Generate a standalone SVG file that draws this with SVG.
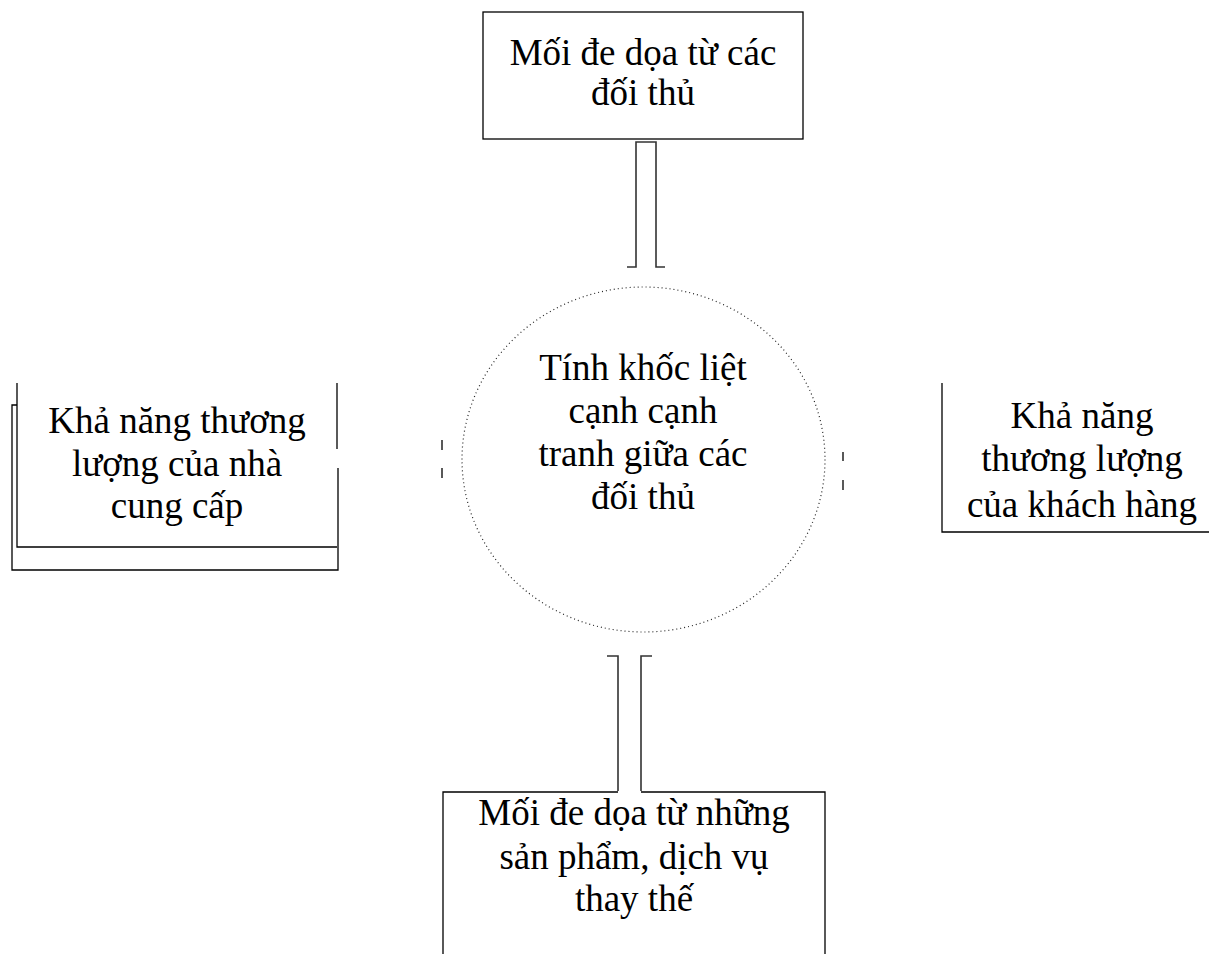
<svg xmlns="http://www.w3.org/2000/svg" width="1209" height="954" viewBox="0 0 1209 954">
  <style>
    .frame { fill: none; stroke: #000; stroke-width: 1.3; }
    .stem { fill: none; stroke: #333; stroke-width: 1.6; }
    .ring { fill: none; stroke: #222; stroke-width: 1.2; stroke-dasharray: 1 3; }
    .tick { stroke: #222; stroke-width: 1.5; }
    .label { font-family: "Liberation Serif", "Times New Roman", serif; font-size: 37px; fill: #000; text-anchor: middle; }
  </style>
  <rect width="1209" height="954" fill="#fff"/>

  <!-- Top: threat of rivals -->
  <g id="node-top">
    <rect class="frame" x="483" y="12" width="320" height="127"/>
    <text class="label" x="643" y="65">Mối đe dọa từ các</text>
    <text class="label" x="643" y="105">đối thủ</text>
  </g>

  <!-- Left: supplier bargaining power (double frame) -->
  <g id="node-left">
    <polyline class="frame" points="17,383 17,547 337,547"/>
    <polyline class="frame" points="337,383 337,449"/>
    <polyline class="frame" points="17,405 12,405 12,570 338,570 338,468"/>
    <text class="label" x="177" y="433">Khả năng thương</text>
    <text class="label" x="177" y="476">lượng của nhà</text>
    <text class="label" x="177" y="518">cung cấp</text>
  </g>

  <!-- Right: customer bargaining power -->
  <g id="node-right">
    <polyline class="frame" points="942,383 942,532 1209,532"/>
    <text class="label" x="1082" y="428">Khả năng</text>
    <text class="label" x="1082" y="471">thương lượng</text>
    <text class="label" x="1082" y="517">của khách hàng</text>
  </g>

  <!-- Centre: rivalry intensity -->
  <g id="node-center">
    <ellipse class="ring" cx="643.5" cy="459.5" rx="181.5" ry="172.5"/>
    <text class="label" x="643" y="380">Tính khốc liệt</text>
    <text class="label" x="643" y="423">cạnh cạnh</text>
    <text class="label" x="643" y="466">tranh giữa các</text>
    <text class="label" x="643" y="509">đối thủ</text>
  </g>

  <!-- Bottom: substitutes -->
  <g id="node-bottom">
    <polyline class="frame" points="443,954 443,792 618,792"/>
    <polyline class="frame" points="641,792 825,792 825,954"/>
    <text class="label" x="634" y="825">Mối đe dọa từ những</text>
    <text class="label" x="634" y="869">sản phẩm, dịch vụ</text>
    <text class="label" x="634" y="911">thay thế</text>
  </g>

  <!-- Connectors -->
  <g id="connectors">
    <polyline class="stem" points="627,267 636,267 636,142 656,142 656,267 665,267"/>
    <polyline class="stem" points="607,656 618,656 618,791"/>
    <polyline class="stem" points="652,656 641,656 641,791"/>
    <line class="tick" x1="442" y1="440" x2="442" y2="450"/>
    <line class="tick" x1="442" y1="468" x2="442" y2="478"/>
    <line class="tick" x1="843" y1="452" x2="843" y2="461"/>
    <line class="tick" x1="843" y1="480" x2="843" y2="490"/>
  </g>
</svg>
